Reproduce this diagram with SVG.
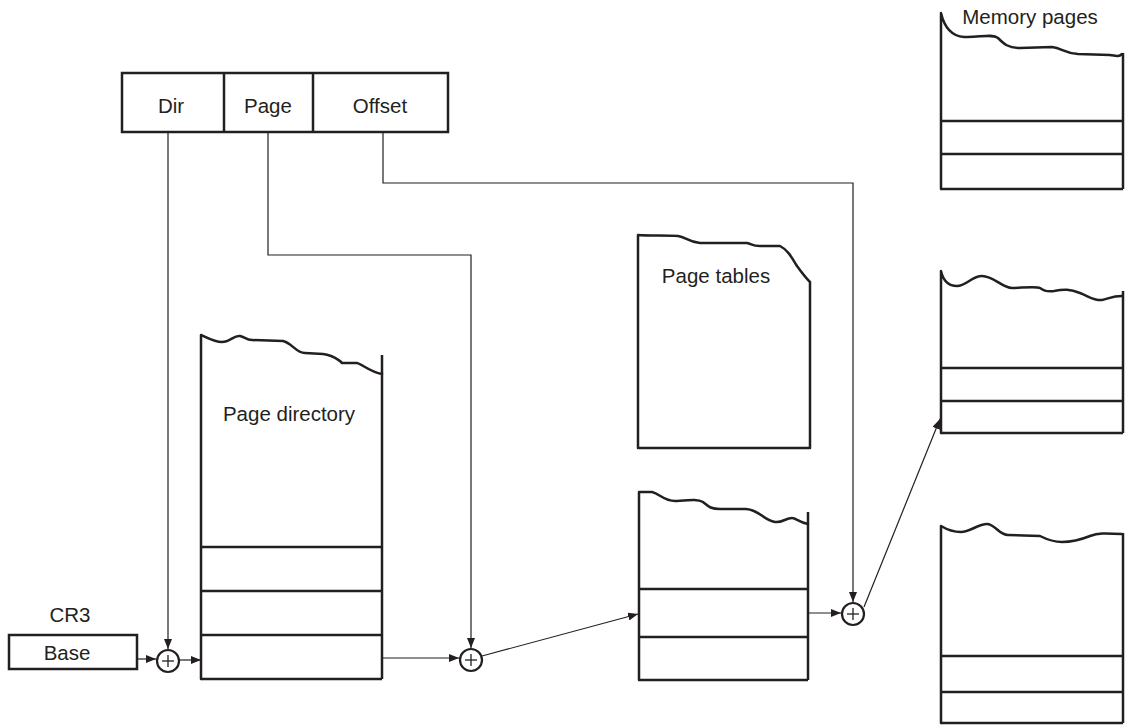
<svg xmlns="http://www.w3.org/2000/svg" width="1132" height="725" viewBox="0 0 1132 725">
<defs>
<marker id="ah" viewBox="0 0 10 8" refX="10" refY="4" markerWidth="10" markerHeight="8" markerUnits="userSpaceOnUse" orient="auto">
<path d="M0,0 L10,4 L0,8 Z" fill="#231f20"/>
</marker>
<style>
.box{fill:none;stroke:#231f20;stroke-width:2.5;stroke-linejoin:miter}
.wave{fill:none;stroke:#231f20;stroke-width:2.5;stroke-linecap:round;stroke-linejoin:round}
.con{fill:none;stroke:#231f20;stroke-width:1.2}
.sum{fill:#fff;stroke:#231f20;stroke-width:2.2}
.plus{stroke:#231f20;stroke-width:1.3}
text{font-family:"Liberation Sans",Arial,sans-serif;font-size:20.5px;fill:#231f20;text-anchor:middle}
</style>
</defs>
<rect width="1132" height="725" fill="#fff"/>

<g id="linear-address">
<rect class="box" x="122" y="73" width="326" height="59"/>
<line class="box" x1="224" y1="73" x2="224" y2="132"/>
<line class="box" x1="313" y1="73" x2="313" y2="132"/>
<text x="171" y="113">Dir</text>
<text x="268" y="113">Page</text>
<text x="380" y="113">Offset</text>
</g>

<g id="cr3">
<text x="70" y="622">CR3</text>
<rect class="box" x="9" y="635" width="128" height="34"/>
<text x="67" y="660">Base</text>
</g>

<g id="page-directory">
<path class="wave" d="M201,679 L201,335 C208,338 214,342 222,342 C230,342 234,335 240,336 C245,337 246,340 252,340 L283,341 C292,343 296,353 305,353 L323,354 C332,355 337,359 340,361 L342,363 L357,363 C362,364 370,372 382,374"/>
<line class="box" x1="382" y1="355" x2="382" y2="679"/>
<line class="box" x1="201" y1="547" x2="382" y2="547"/>
<line class="box" x1="201" y1="591" x2="382" y2="591"/>
<line class="box" x1="201" y1="635" x2="382" y2="635"/>
<line class="box" x1="201" y1="679" x2="382" y2="679"/>
<text x="289" y="421">Page directory</text>
</g>

<g id="page-tables-label">
<path class="wave" d="M638,448 L638,235 C650,236 666,235 678,236 C686,237 688,242 700,243 L747,243 C752,244 752,246 760,246 L780,246 C788,250 792,258 797,266 C802,273 806,278 810,282 L810,448 L638,448"/>
<text x="716" y="283">Page tables</text>
</g>

<g id="page-table">
<path class="wave" d="M639,680 L639,492 L652,492 C660,494 664,501 675,501 C690,500 698,499 703,502 C708,506 710,509 720,509 L746,509 C760,510 763,520 775,522 C782,523 786,518 792,518 C796,518 800,523 808,524"/>
<line class="box" x1="808" y1="512" x2="808" y2="680"/>
<line class="box" x1="639" y1="589" x2="808" y2="589"/>
<line class="box" x1="639" y1="637" x2="808" y2="637"/>
<line class="box" x1="639" y1="680" x2="808" y2="680"/>
</g>

<g id="memory-page-1">
<path class="wave" d="M941,189 L941,13 C944,26 950,36 964,37 C978,38 992,33 998,38 C1004,44 1008,48 1020,48 L1052,47 C1062,48 1064,53 1078,54 L1110,55 C1116,56 1119,57 1122,54"/>
<line class="box" x1="1123" y1="53" x2="1123" y2="189"/>
<line class="box" x1="941" y1="121" x2="1123" y2="121"/>
<line class="box" x1="941" y1="154" x2="1123" y2="154"/>
<line class="box" x1="941" y1="189" x2="1123" y2="189"/>
<text x="1030" y="24">Memory pages</text>
</g>

<g id="memory-page-2">
<path class="wave" d="M941,433 L941,271 C943,280 947,286 957,286 C966,286 972,276 982,276 C994,276 1002,288 1012,288 C1020,288 1036,286 1040,288 C1044,291 1047,292 1054,291 C1064,289 1070,289 1080,293 C1090,297 1095,301 1102,300 C1108,299 1112,296 1122,296"/>
<line class="box" x1="1123" y1="291" x2="1123" y2="433"/>
<line class="box" x1="941" y1="368" x2="1123" y2="368"/>
<line class="box" x1="941" y1="401" x2="1123" y2="401"/>
<line class="box" x1="941" y1="433" x2="1123" y2="433"/>
</g>

<g id="memory-page-3">
<path class="wave" d="M941,723 L941,526 C946,529 952,532 961,532 C970,532 978,524 987,524 C995,524 999,535 1008,535 L1040,536 C1048,540 1054,542 1062,542 C1072,542 1080,540 1090,536 C1098,533 1104,533 1122,534"/>
<line class="box" x1="1123" y1="533" x2="1123" y2="723"/>
<line class="box" x1="941" y1="656" x2="1123" y2="656"/>
<line class="box" x1="941" y1="692" x2="1123" y2="692"/>
<line class="box" x1="941" y1="723" x2="1123" y2="723"/>
</g>

<g id="adder-1">
<circle class="sum" cx="168" cy="661" r="11"/>
<line class="plus" x1="162" y1="661" x2="174" y2="661"/>
<line class="plus" x1="168" y1="655" x2="168" y2="667"/>
</g>
<g id="adder-2">
<circle class="sum" cx="471" cy="660" r="11"/>
<line class="plus" x1="465" y1="660" x2="477" y2="660"/>
<line class="plus" x1="471" y1="654" x2="471" y2="666"/>
</g>
<g id="adder-3">
<circle class="sum" cx="853" cy="614" r="11"/>
<line class="plus" x1="847" y1="614" x2="859" y2="614"/>
<line class="plus" x1="853" y1="608" x2="853" y2="620"/>
</g>

<g id="connectors">
<path class="con" d="M168,132 L168,649" marker-end="url(#ah)"/>
<path class="con" d="M268,132 L268,255 L471,255 L471,648" marker-end="url(#ah)"/>
<path class="con" d="M383,132 L383,183 L853,183 L853,602" marker-end="url(#ah)"/>
<path class="con" d="M137,659 L156,659" marker-end="url(#ah)"/>
<path class="con" d="M180,660 L201,660" marker-end="url(#ah)"/>
<path class="con" d="M382,658 L459,658" marker-end="url(#ah)"/>
<path class="con" d="M482,656 L638,614" marker-end="url(#ah)"/>
<path class="con" d="M808,613 L841,613" marker-end="url(#ah)"/>
<path class="con" d="M864,607 L940,419" marker-end="url(#ah)"/>
</g>
</svg>
